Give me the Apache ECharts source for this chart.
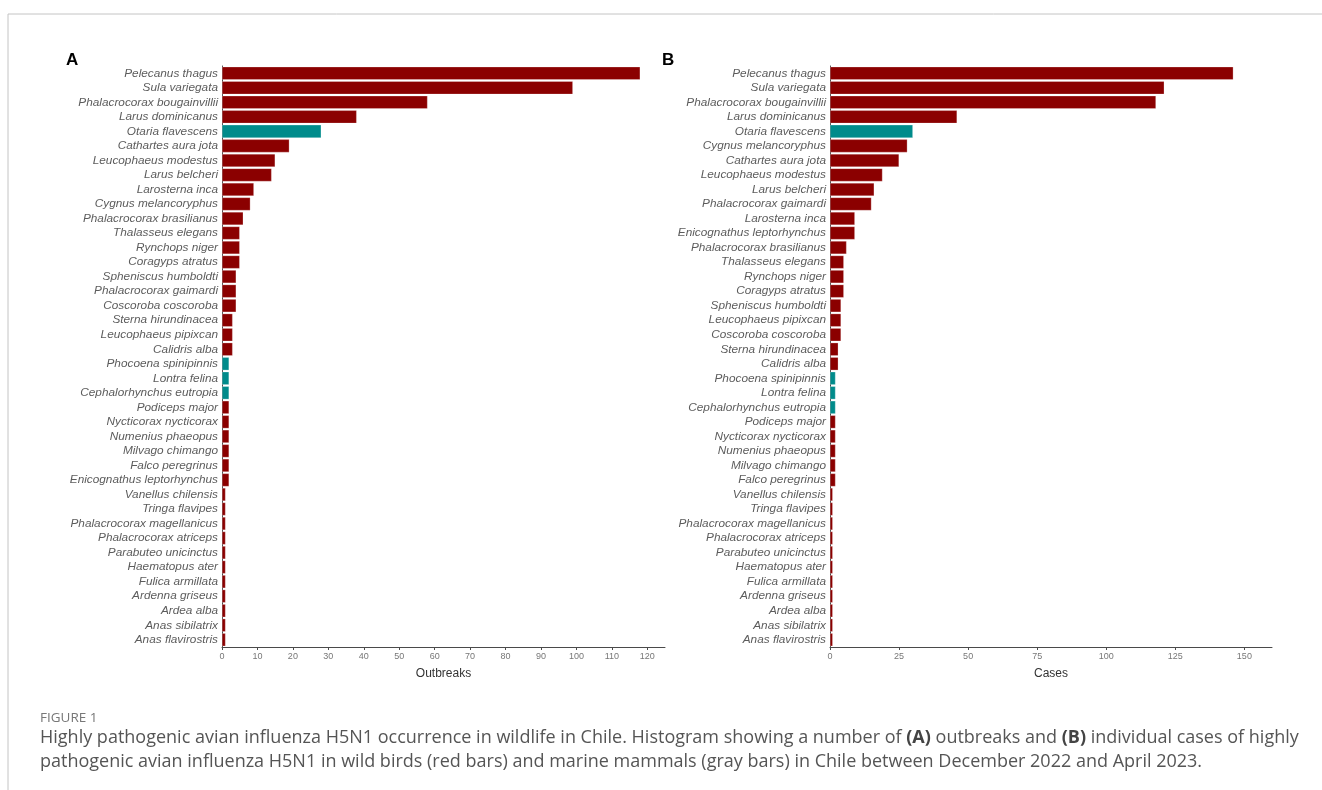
<!DOCTYPE html>
<html>
<head>
<meta charset="utf-8">
<title>HPAI H5N1 in wildlife, Chile</title>
<script src="https://cdn.jsdelivr.net/npm/echarts@6/dist/echarts.min.js"></script>
<style>
  html, body { margin: 0; padding: 0; background: #fff; }
  #chart { width: 1322px; height: 790px; }
</style>
</head>
<body>
<div id="chart"></div>
<script>
// panel A - outbreaks per species (top to bottom)
const speciesA = [
  'Pelecanus thagus', 'Sula variegata', 'Phalacrocorax bougainvillii', 'Larus dominicanus',
  'Otaria flavescens', 'Cathartes aura jota', 'Leucophaeus modestus', 'Larus belcheri',
  'Larosterna inca', 'Cygnus melancoryphus', 'Phalacrocorax brasilianus', 'Thalasseus elegans',
  'Rynchops niger', 'Coragyps atratus', 'Spheniscus humboldti', 'Phalacrocorax gaimardi',
  'Coscoroba coscoroba', 'Sterna hirundinacea', 'Leucophaeus pipixcan', 'Calidris alba',
  'Phocoena spinipinnis', 'Lontra felina', 'Cephalorhynchus eutropia', 'Podiceps major',
  'Nycticorax nycticorax', 'Numenius phaeopus', 'Milvago chimango', 'Falco peregrinus',
  'Enicognathus leptorhynchus', 'Vanellus chilensis', 'Tringa flavipes', 'Phalacrocorax magellanicus',
  'Phalacrocorax atriceps', 'Parabuteo unicinctus', 'Haematopus ater', 'Fulica armillata',
  'Ardenna griseus', 'Ardea alba', 'Anas sibilatrix', 'Anas flavirostris'
]
const outbreaks = [
  118, 99, 58, 38, 28, 19, 15, 14, 9, 8, 6, 5, 5, 5, 4, 4, 4, 3, 3, 3,
  2, 2, 2, 2, 2, 2, 2, 2, 2, 1, 1, 1, 1, 1, 1, 1, 1, 1, 1, 1
]

// panel B - individual cases per species (top to bottom)
const speciesB = [
  'Pelecanus thagus', 'Sula variegata', 'Phalacrocorax bougainvillii', 'Larus dominicanus',
  'Otaria flavescens', 'Cygnus melancoryphus', 'Cathartes aura jota', 'Leucophaeus modestus',
  'Larus belcheri', 'Phalacrocorax gaimardi', 'Larosterna inca', 'Enicognathus leptorhynchus',
  'Phalacrocorax brasilianus', 'Thalasseus elegans', 'Rynchops niger', 'Coragyps atratus',
  'Spheniscus humboldti', 'Leucophaeus pipixcan', 'Coscoroba coscoroba', 'Sterna hirundinacea',
  'Calidris alba', 'Phocoena spinipinnis', 'Lontra felina', 'Cephalorhynchus eutropia',
  'Podiceps major', 'Nycticorax nycticorax', 'Numenius phaeopus', 'Milvago chimango',
  'Falco peregrinus', 'Vanellus chilensis', 'Tringa flavipes', 'Phalacrocorax magellanicus',
  'Phalacrocorax atriceps', 'Parabuteo unicinctus', 'Haematopus ater', 'Fulica armillata',
  'Ardenna griseus', 'Ardea alba', 'Anas sibilatrix', 'Anas flavirostris'
]
const cases = [
  146, 121, 118, 46, 30, 28, 25, 19, 16, 15, 9, 9, 6, 5, 5, 5, 4, 4, 4, 3,
  3, 2, 2, 2, 2, 2, 2, 2, 2, 1, 1, 1, 1, 1, 1, 1, 1, 1, 1, 1
]

// marine mammals get the teal bars, birds the dark red ones
const mammals = ['Otaria flavescens', 'Phocoena spinipinnis', 'Lontra felina', 'Cephalorhynchus eutropia']

const ticksA = [0, 10, 20, 30, 40, 50, 60, 70, 80, 90, 100, 110, 120]
const ticksB = [0, 25, 50, 75, 100, 125, 150]

const BIRD = '#8b0000'
const MAMMAL = '#008b8b'
const AXIS = '#4a4a4a'

function barColor(params) {
  return mammals.includes(params.name) ? MAMMAL : BIRD
}

function catAxis(idx, names) {
  return {
    type: 'category',
    gridIndex: idx,
    data: names,
    inverse: true,
    axisLine: { lineStyle: { color: AXIS, width: 1 } },
    axisTick: { alignWithLabel: true, length: 3, lineStyle: { color: AXIS } },
    axisLabel: {
      interval: 0,
      margin: 4,
      fontFamily: 'Liberation Sans',
      fontStyle: 'italic',
      fontSize: 11.8,
      color: '#5c5c5c'
    }
  }
}

function valAxis(idx, name, max, interval, ticks) {
  return {
    type: 'value',
    gridIndex: idx,
    min: 0,
    max: max,
    interval: interval,
    name: name,
    nameLocation: 'middle',
    nameGap: 21,
    nameTextStyle: { fontFamily: 'Liberation Sans', fontSize: 12, color: '#333' },
    axisLine: { show: true, lineStyle: { color: AXIS, width: 1 } },
    axisTick: { show: true, length: 3, lineStyle: { color: AXIS }, customValues: ticks },
    axisLabel: {
      margin: 5,
      fontFamily: 'Liberation Sans',
      fontSize: 9,
      color: '#777',
      customValues: ticks
    },
    splitLine: { show: false }
  }
}

function barSeries(idx, values) {
  return {
    type: 'bar',
    xAxisIndex: idx,
    yAxisIndex: idx,
    data: values,
    barCategoryGap: '10%',
    itemStyle: { color: barColor, borderColor: 'rgba(255,255,255,0.5)', borderWidth: 0.5 },
    animation: false
  }
}

const chart = echarts.init(document.getElementById('chart'), null, { renderer: 'canvas' })

chart.setOption({
  backgroundColor: '#fff',
  animation: false,
  grid: [
    { left: 222, top: 66, width: 443, height: 581 },
    { left: 830, top: 66, width: 442, height: 581 }
  ],
  xAxis: [
    valAxis(0, 'Outbreaks', 125, 10, ticksA),
    valAxis(1, 'Cases', 160, 25, ticksB)
  ],
  yAxis: [catAxis(0, speciesA), catAxis(1, speciesB)],
  series: [barSeries(0, outbreaks), barSeries(1, cases)],
  graphic: [
    // page frame
    { type: 'line', shape: { x1: 8, y1: 14, x2: 1322, y2: 14 }, style: { stroke: '#c4c4c4', lineWidth: 1 } },
    { type: 'line', shape: { x1: 8, y1: 14, x2: 8, y2: 790 }, style: { stroke: '#c4c4c4', lineWidth: 1 } },
    // panel letters
    { type: 'text', left: 66, top: 52, style: { text: 'A', font: 'bold 17px "Liberation Sans"', fill: '#000' } },
    { type: 'text', left: 662, top: 52, style: { text: 'B', font: 'bold 17px "Liberation Sans"', fill: '#000' } },
    // caption
    { type: 'text', left: 40, top: 711, style: { text: 'FIGURE 1', font: '13.5px "Open Sans"', fill: '#777' } },
    {
      type: 'text', left: 40, top: 726,
      style: {
        text: 'Highly pathogenic avian influenza H5N1 occurrence in wildlife in Chile. Histogram showing a number of {b|(A)} outbreaks and {b|(B)} individual cases of highly\n' +
          'pathogenic avian influenza H5N1 in wild birds (red bars) and marine mammals (gray bars) in Chile between December 2022 and April 2023.',
        font: '18px "Open Sans"',
        fill: '#555',
        lineHeight: 24,
        rich: {
          b: { fontFamily: 'Open Sans', fontSize: 18, fontWeight: 'bold', fill: '#444', lineHeight: 24 }
        }
      }
    }
  ]
})
</script>
</body>
</html>
